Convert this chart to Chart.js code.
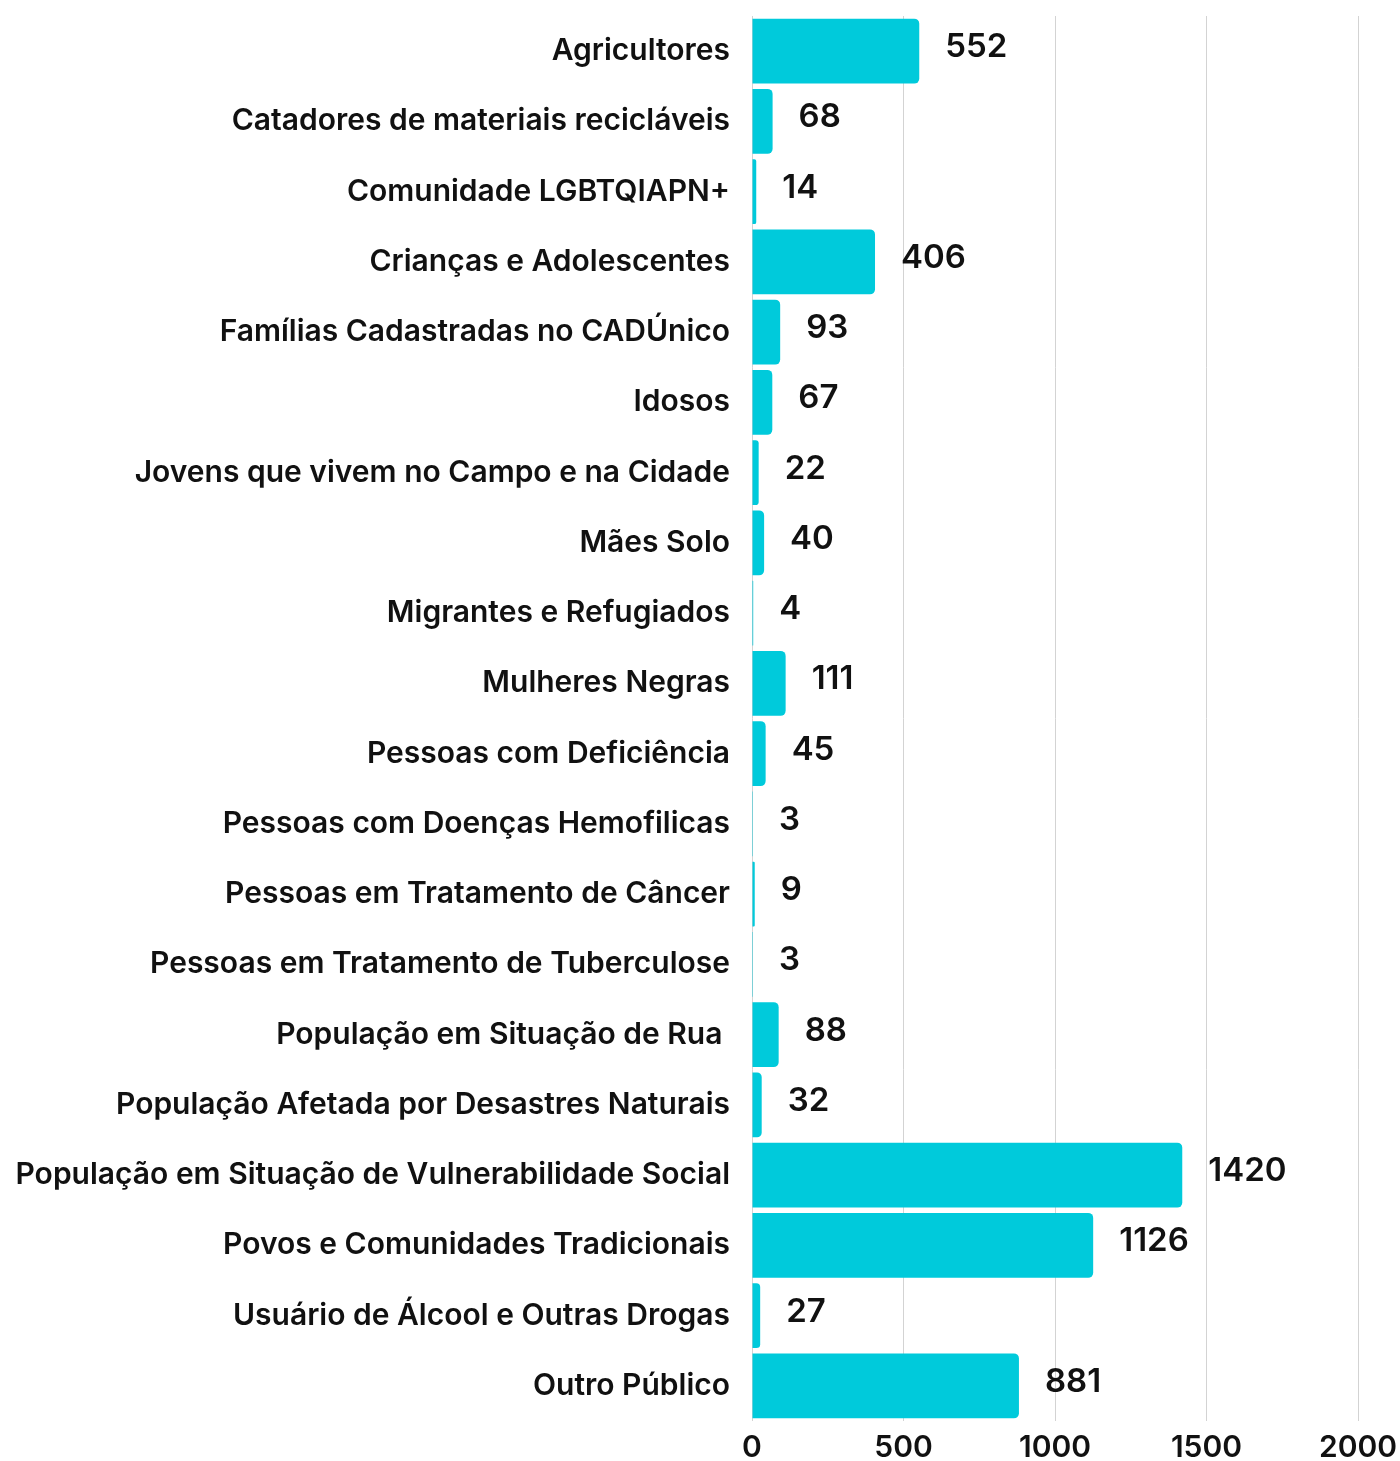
<!DOCTYPE html>
<html>
<head>
<meta charset="utf-8">
<script src="https://cdn.jsdelivr.net/npm/chart.js@4"></script>
<style>
html,body{margin:0;padding:0;background:#fff;}
#wrap{width:1400px;height:1461px;position:relative;}
</style>
</head>
<body>
<div id="wrap"><canvas id="c" width="1400" height="1461"></canvas></div>
<script>
const categories = [
  "Agricultores",
  "Catadores de materiais recicláveis",
  "Comunidade LGBTQIAPN+",
  "Crianças e Adolescentes",
  "Famílias Cadastradas no CADÚnico",
  "Idosos",
  "Jovens que vivem no Campo e na Cidade",
  "Mães Solo",
  "Migrantes e Refugiados",
  "Mulheres Negras",
  "Pessoas com Deficiência",
  "Pessoas com Doenças Hemofilicas",
  "Pessoas em Tratamento de Câncer",
  "Pessoas em Tratamento de Tuberculose",
  "População em Situação de Rua ",
  "População Afetada por Desastres Naturais",
  "População em Situação de Vulnerabilidade Social",
  "Povos e Comunidades Tradicionais",
  "Usuário de Álcool e Outras Drogas",
  "Outro Público"
];
const values = [552, 68, 14, 406, 93, 67, 22, 40, 4, 111, 45, 3, 9, 3, 88, 32, 1420, 1126, 27, 881];
const xTicks = [0, 500, 1000, 1500, 2000];

const FONT = "Inter, 'DejaVu Sans', sans-serif";

const valueLabels = {
  id: 'valueLabels',
  afterDatasetsDraw(chart) {
    const ctx = chart.ctx;
    const meta = chart.getDatasetMeta(0);
    ctx.save();
    ctx.font = "600 33px " + FONT;
    ctx.fillStyle = "#111";
    ctx.textAlign = "left";
    ctx.textBaseline = "middle";
    meta.data.forEach((bar, i) => {
      ctx.fillText(String(values[i]), bar.x + 26, bar.y - 4);
    });
    ctx.restore();
  }
};

new Chart(document.getElementById('c'), {
  type: 'bar',
  data: {
    labels: categories,
    datasets: [{
      data: values,
      backgroundColor: '#00CADB',
      borderRadius: {topRight: 5, bottomRight: 5, topLeft: 0, bottomLeft: 0},
      borderSkipped: 'start',
      categoryPercentage: 1,
      barPercentage: 0.925
    }]
  },
  options: {
    indexAxis: 'y',
    responsive: false,
    animation: false,
    layout: { padding: { top: 16, right: 0, bottom: 0, left: 0 } },
    plugins: { legend: { display: false }, tooltip: { enabled: false } },
    scales: {
      x: {
        min: 0, max: 2000,
        afterBuildTicks(scale) { scale.ticks = xTicks.map(v => ({value: v})); },
        afterFit(scale) { scale.height = 40; scale.paddingRight = 42; scale.paddingLeft = 0; },
        grid: { color: '#d3d3d3', lineWidth: 1, drawTicks: false },
        border: { display: false },
        ticks: { padding: 9, color: '#111', font: { family: FONT, size: 30, weight: '600' }, maxRotation: 0,
                 callback: (v) => String(v) }
      },
      y: {
        afterFit(scale) { scale.width = 752; scale.paddingTop = 0; scale.paddingBottom = 0; },
        grid: { display: false, drawTicks: false },
        border: { display: false },
        ticks: { padding: 22, color: '#111', font: { family: FONT, size: 30, weight: '600' }, autoSkip: false }
      }
    }
  },
  plugins: [valueLabels]
});
</script>
</body>
</html>
